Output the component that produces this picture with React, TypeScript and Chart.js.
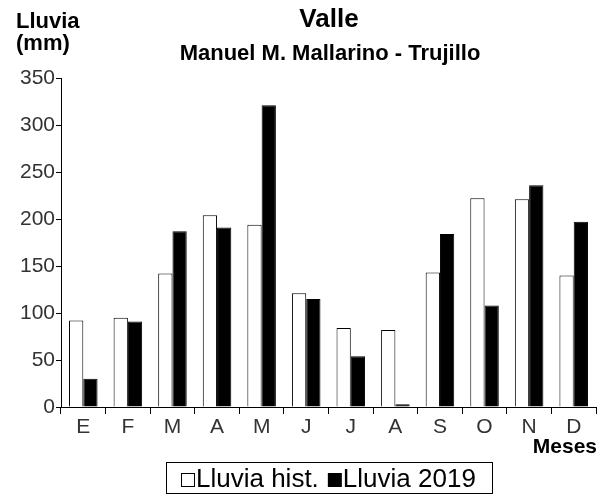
import React, { useEffect, useRef } from "react";
import { Chart, registerables } from "chart.js";

Chart.register(...registerables);

const months = ["E", "F", "M", "A", "M", "J", "J", "A", "S", "O", "N", "D"];
const lluviaHist = [92, 95, 142, 204, 194, 121, 84, 82, 143, 222, 221, 140];
const lluvia2019 = [30, 91, 187, 191, 321, 115, 54, 3, 184, 108, 236, 197];
const yTicks = [0, 50, 100, 150, 200, 250, 300, 350];
const titleText = "Valle";
const subtitleText = "Manuel M. Mallarino - Trujillo";
const yLabelLines = ["Lluvia", "(mm)"];
const xLabelText = "Meses";
const legendLabels = ["Lluvia hist.", "Lluvia 2019"];

const FONT = "'Liberation Sans', Arial, sans-serif";

const textPlugin = {
  id: "textPlugin",
  afterDraw(chart: any) {
    const ctx = chart.ctx as CanvasRenderingContext2D;
    const area = chart.chartArea;
    ctx.save();
    ctx.fillStyle = "#000";
    ctx.textBaseline = "alphabetic";
    // titles
    ctx.textAlign = "center";
    ctx.font = `bold 26px ${FONT}`;
    ctx.fillText(titleText, 329, 27);
    ctx.font = `bold 22px ${FONT}`;
    ctx.fillText(subtitleText, 330, 60);
    // y label
    ctx.textAlign = "left";
    ctx.font = `bold 22px ${FONT}`;
    ctx.fillText(yLabelLines[0], 16, 28);
    ctx.fillText(yLabelLines[1], 16, 50);
    // x label
    ctx.textAlign = "right";
    ctx.font = `bold 21px ${FONT}`;
    ctx.fillText(xLabelText, area.right + 1, 453);
    // legend
    const bx = 166, by = 462, bw = 326, bh = 31;
    ctx.strokeStyle = "#000";
    ctx.lineWidth = 1;
    ctx.strokeRect(bx + 0.5, by + 0.5, bw, bh);
    ctx.font = `26px ${FONT}`;
    ctx.textAlign = "left";
    const base = 487;
    ctx.fillStyle = "#fff";
    ctx.fillRect(181, base - 14, 14, 14);
    ctx.strokeRect(181.5, base - 13.5, 13, 13);
    ctx.fillStyle = "#000";
    ctx.fillText(legendLabels[0], 196, base);
    const w1 = ctx.measureText(legendLabels[0]).width;
    const x2 = 196 + w1 + 9;
    ctx.fillRect(x2, base - 14, 14, 14);
    ctx.fillText(legendLabels[1], x2 + 15, base);
    ctx.restore();
  },
};

export default function App() {
  const ref = useRef<HTMLCanvasElement>(null);
  useEffect(() => {
    if (!ref.current) return;
    const chart = new Chart(ref.current, {
      type: "bar",
      data: {
        labels: months,
        datasets: [
          {
            label: legendLabels[0],
            data: lluviaHist,
            backgroundColor: "#ffffff",
            borderColor: "#000000",
            borderWidth: 1,
            barPercentage: 1,
            categoryPercentage: 0.64,
          },
          {
            label: legendLabels[1],
            data: lluvia2019,
            backgroundColor: "#000000",
            borderColor: "#000000",
            borderWidth: 1,
            barPercentage: 1,
            categoryPercentage: 0.64,
          },
        ],
      },
      options: {
        animation: false,
        responsive: false,
        maintainAspectRatio: false,
        layout: { padding: { left: 0, right: 12, top: 78, bottom: 0 } },
        plugins: {
          legend: { display: false },
          title: { display: false },
          tooltip: { enabled: false },
        },
        scales: {
          x: {
            grid: {
              display: true,
              drawOnChartArea: false,
              drawTicks: true,
              tickLength: 7,
              color: "#000",
              offset: true,
            },
            border: { display: true, color: "#000", width: 1 },
            ticks: {
              color: "#333",
              font: { family: FONT, size: 21 },
              padding: 1,
              maxRotation: 0,
            },
            afterFit: (s: any) => {
              s.height = 496 - 407;
            },
          },
          y: {
            min: 0,
            max: 350,
            afterBuildTicks: (s: any) => {
              s.ticks = yTicks.map((v) => ({ value: v }));
            },
            grid: {
              display: true,
              drawOnChartArea: false,
              drawTicks: true,
              tickLength: 5,
              color: "#000",
            },
            border: { display: true, color: "#000", width: 1 },
            ticks: {
              color: "#333",
              font: { family: FONT, size: 21 },
              padding: 1,
            },
            afterFit: (s: any) => {
              s.width = 61;
            },
          },
        },
      },
      plugins: [textPlugin],
    });
    return () => chart.destroy();
  }, []);
  return (
    <div style={{ position: "fixed", left: 0, top: 0, width: 608, height: 496, background: "#fff" }}>
      <canvas ref={ref} width={608} height={496} style={{ width: 608, height: 496 }} />
    </div>
  );
}
